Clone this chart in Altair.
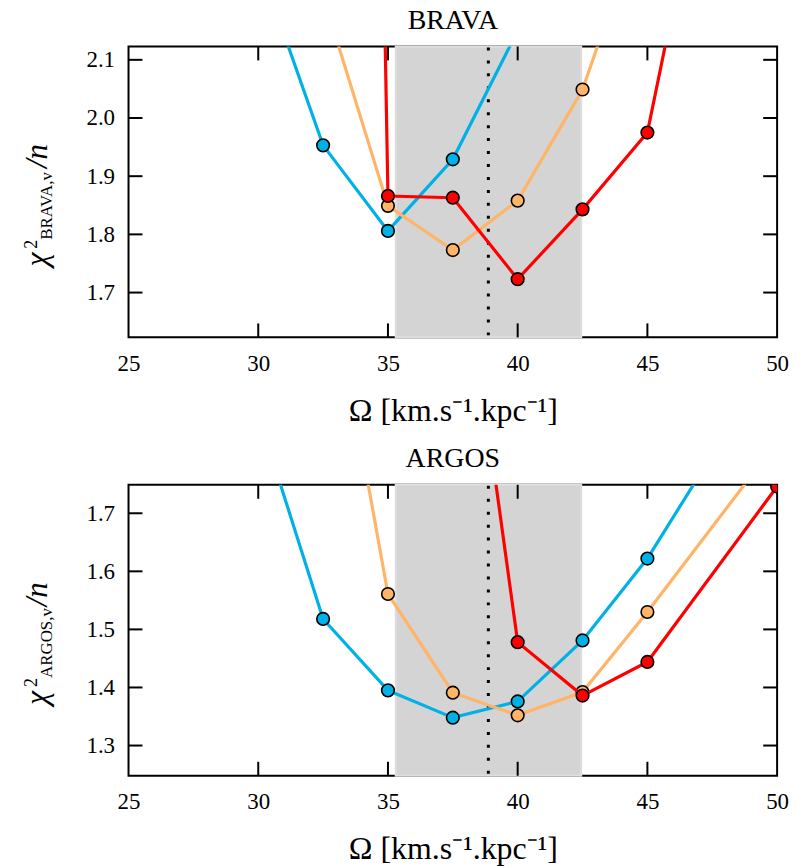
import altair as alt
import pandas as pd

# ---- data ----
omega_top_blue = [30, 32.5, 35, 37.5, 40]
chi_top_blue = [2.27, 1.953, 1.806, 1.929, 2.15]
omega_top_orange = [32.5, 35, 37.5, 40, 42.5, 45]
chi_top_orange = [2.21, 1.849, 1.773, 1.858, 2.049, 2.37]
omega_top_red = [32.5, 35, 37.5, 40, 42.5, 45, 50]
chi_top_red = [8.0, 1.866, 1.863, 1.723, 1.843, 1.975, 3.06]

omega_bot_blue = [30, 32.5, 35, 37.5, 40, 42.5, 45, 50]
chi_bot_blue = [1.87, 1.518, 1.395, 1.348, 1.376, 1.481, 1.622, 1.98]
omega_bot_orange = [32.5, 35, 37.5, 40, 42.5, 45, 50]
chi_bot_orange = [2.18, 1.561, 1.391, 1.352, 1.392, 1.530, 1.823]
omega_bot_red = [37.5, 40, 42.5, 45, 50]
chi_bot_red = [2.29, 1.478, 1.386, 1.444, 1.746]

band = [35.3, 42.45]
omega_ref = 38.87

x_ticks = [30, 35, 40, 45]
x_labels = [25, 30, 35, 40, 45, 50]
y_ticks_top = [1.7, 1.8, 1.9, 2.0, 2.1]
y_ticks_bot = [1.3, 1.4, 1.5, 1.6, 1.7]
x_domain = [25, 50]
y_domain_top = [1.623, 2.123]
y_domain_bot = [1.248, 1.749]

series_colors = ["#00b1e6", "#ffb468", "#ff0000"]

W, H = 651, 292
TL = 14
FONT = "Liberation Serif"


def panel(title, sub, y_domain, y_ticks, series):
    xs = alt.Scale(domain=x_domain, nice=False, zero=False)
    ys = alt.Scale(domain=y_domain, nice=False, zero=False)
    xax = alt.Axis(values=x_labels, format="d", ticks=False, domain=False, grid=False,
                   labelFlush=False, labelFont=FONT, labelFontSize=23, labelPadding=15,
                   labelColor="black",
                   title="Ω [km.s⁻¹.kpc⁻¹]", titleFont=FONT, titleFontSize=32,
                   titleFontWeight="normal", titleColor="black", titlePadding=20)
    yax = alt.Axis(values=y_ticks, format=".1f", ticks=False, domain=False, grid=False,
                   labelFont=FONT, labelFontSize=23, labelPadding=14, labelColor="black",
                   title=None)
    X = lambda f="omega": alt.X(f"{f}:Q", scale=xs, axis=xax)
    Y = lambda f="chi": alt.Y(f"{f}:Q", scale=ys, axis=yax)

    layers = []
    bdf = pd.DataFrame({"omega": [band[0]], "omega2": [band[1]]})
    layers.append(alt.Chart(bdf).mark_rect(color="#d4d4d4", stroke="#dedede", strokeWidth=2).encode(
        x=X(), x2="omega2:Q", y=alt.value(0), y2=alt.value(H)))
    rdf = pd.DataFrame({"omega": [omega_ref]})
    layers.append(alt.Chart(rdf).mark_rule(color="black", strokeWidth=3, strokeDash=[3, 10]).encode(
        x=X(), y=alt.value(1), y2=alt.value(H)))
    for (om, ch), col in zip(series, series_colors):
        df = pd.DataFrame({"omega": om, "chi": ch})
        layers.append(alt.Chart(df).mark_line(color=col, strokeWidth=3.2, clip=True).encode(x=X(), y=Y()))
        layers.append(alt.Chart(df).mark_point(filled=True, fill=col, stroke="black", strokeWidth=1.6,
                                               size=160, opacity=1, clip=True).encode(x=X(), y=Y()))
    xt = pd.DataFrame({"omega": x_ticks})
    layers.append(alt.Chart(xt).mark_rule(color="black", strokeWidth=2).encode(
        x=X(), y=alt.value(H - TL), y2=alt.value(H)))
    layers.append(alt.Chart(xt).mark_rule(color="black", strokeWidth=2).encode(
        x=X(), y=alt.value(0), y2=alt.value(TL)))
    yt = pd.DataFrame({"chi": y_ticks})
    layers.append(alt.Chart(yt).mark_rule(color="black", strokeWidth=2).encode(
        y=Y(), x=alt.value(0), x2=alt.value(TL)))
    layers.append(alt.Chart(yt).mark_rule(color="black", strokeWidth=2).encode(
        y=Y(), x=alt.value(W - TL), x2=alt.value(W)))

    one = pd.DataFrame({"a": [0]})
    pieces = [("χ", -82, 221, 32, "italic"), ("2", -92, 203, 18, "normal"),
              (sub, -77, 194, 17, "normal"), ("/n", -82, 122, 31, "italic")]
    for txt, px, py, fs, st in pieces:
        layers.append(alt.Chart(one).mark_text(font=FONT, fontSize=fs, fontStyle=st, angle=270,
                                               align="left", baseline="alphabetic", color="black").encode(
            x=alt.value(px), y=alt.value(py), text=alt.value(txt)))

    return alt.layer(*layers).properties(
        width=W, height=H,
        title=alt.TitleParams(title, font=FONT, fontSize=28, fontWeight="normal", color="black",
                              anchor="middle", frame="group", offset=11))


top = panel("BRAVA", "BRAVA,v", y_domain_top, y_ticks_top,
            [(omega_top_blue, chi_top_blue), (omega_top_orange, chi_top_orange),
             (omega_top_red, chi_top_red)])
bot = panel("ARGOS", "ARGOS,v", y_domain_bot, y_ticks_bot,
            [(omega_bot_blue, chi_bot_blue), (omega_bot_orange, chi_bot_orange),
             (omega_bot_red, chi_bot_red)])

chart = alt.vconcat(top, bot, spacing=17).properties(
    padding={"left": 20, "top": 4, "right": 17, "bottom": 2},
    background="white"
).configure_view(stroke="black", strokeWidth=2)

chart.save("out.html", embed_options={"renderer": "svg", "actions": False})
